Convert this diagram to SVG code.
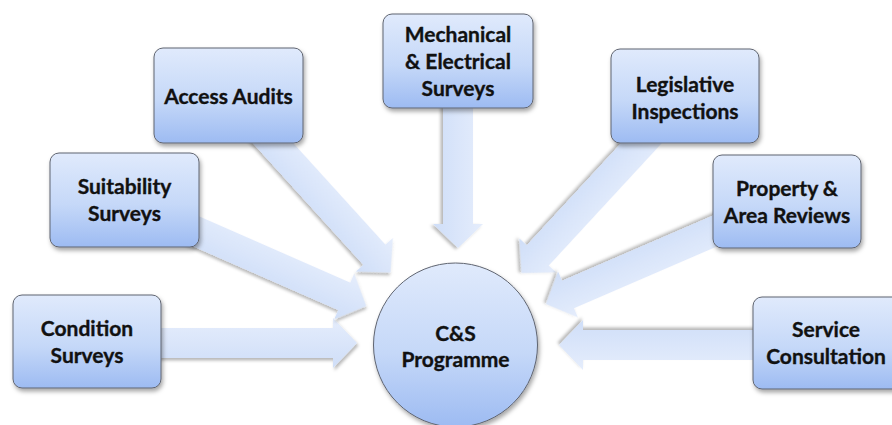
<svg xmlns="http://www.w3.org/2000/svg" width="892" height="425" viewBox="0 0 892 425">
  <defs>
    <linearGradient id="boxFill" x1="0" y1="0" x2="0" y2="1">
      <stop offset="0" stop-color="#e0eafc"/>
      <stop offset="0.55" stop-color="#c5d8f8"/>
      <stop offset="1" stop-color="#9dbbf2"/>
    </linearGradient>
    <linearGradient id="arrowFill" x1="0" y1="0" x2="0" y2="1">
      <stop offset="0" stop-color="#e5edfc"/>
      <stop offset="1" stop-color="#cfdef8"/>
    </linearGradient>
    <filter id="shadow" x="-20%" y="-20%" width="140%" height="150%">
      <feDropShadow dx="1.5" dy="3" stdDeviation="2" flood-color="#000" flood-opacity="0.35"/>
    </filter>
    <filter id="arrowShadow" x="-20%" y="-30%" width="140%" height="160%">
      <feDropShadow dx="1.5" dy="2.5" stdDeviation="1.8" flood-color="#000" flood-opacity="0.28"/>
    </filter>
  </defs>
  <style>
    .node rect, .node circle { fill: url(#boxFill); stroke: #5f6470; stroke-width: 1; filter: url(#shadow); }
    .node text { font-family: Lato, "Open Sans", "Liberation Sans", sans-serif; font-weight: bold; font-size: 21px; fill: #111; stroke: #111; stroke-width: 0.35; text-anchor: middle; }
    .arrow { fill: url(#arrowFill); filter: url(#arrowShadow); }
  </style>

  <!-- block arrows: each points along +x with its tip at the origin, then placed and turned -->
  <g id="connectors">
    <!-- Condition Surveys -> C&S Programme -->
    <path class="arrow" transform="translate(357,343)" d="M-270,-15 H-24 V-25 L0,0 L-24,25 V15 H-270 Z"/>
    <!-- Suitability Surveys -> C&S Programme -->
    <path class="arrow" transform="translate(366.2,306) rotate(23.69)" d="M-264,-15 H-24 V-25 L0,0 L-24,25 V15 H-264 Z"/>
    <!-- Access Audits -> C&S Programme -->
    <path class="arrow" transform="translate(390.5,272.5) rotate(47.77)" d="M-240,-15 H-24 V-25 L0,0 L-24,25 V15 H-240 Z"/>
    <!-- Mechanical & Electrical Surveys -> C&S Programme -->
    <path class="arrow" transform="translate(458,248) rotate(90)" d="M-187,-15 H-24 V-25 L0,0 L-24,25 V15 H-187 Z"/>
    <!-- Legislative Inspections -> C&S Programme -->
    <path class="arrow" transform="translate(521.5,273) rotate(132.73)" d="M-242,-15 H-24 V-25 L0,0 L-24,25 V15 H-242 Z"/>
    <!-- Property & Area Reviews -> C&S Programme -->
    <path class="arrow" transform="translate(546,304) rotate(156.63)" d="M-262,-15 H-24 V-25 L0,0 L-24,25 V15 H-262 Z"/>
    <!-- Service Consultation -> C&S Programme -->
    <path class="arrow" transform="translate(559,345) rotate(180)" d="M-269,-15 H-24 V-25 L0,0 L-24,25 V15 H-269 Z"/>
  </g>

  <g id="condition-surveys" class="node">
    <rect x="13" y="295" width="148" height="93" rx="9"/>
    <text x="87" y="336">Condition</text>
    <text x="87" y="363">Surveys</text>
  </g>

  <g id="suitability-surveys" class="node">
    <rect x="50" y="153" width="149" height="94" rx="9"/>
    <text x="124.5" y="194">Suitability</text>
    <text x="124.5" y="221">Surveys</text>
  </g>

  <g id="access-audits" class="node">
    <rect x="154" y="48" width="149" height="95" rx="9"/>
    <text x="228.5" y="104">Access Audits</text>
  </g>

  <g id="mech-elec-surveys" class="node">
    <rect x="383" y="14" width="150" height="94" rx="9"/>
    <text x="458" y="42">Mechanical</text>
    <text x="458" y="69">&amp; Electrical</text>
    <text x="458" y="96">Surveys</text>
  </g>

  <g id="legislative-inspections" class="node">
    <rect x="611" y="49" width="148" height="94" rx="9"/>
    <text x="685" y="92">Legislative</text>
    <text x="685" y="119">Inspections</text>
  </g>

  <g id="property-area-reviews" class="node">
    <rect x="713" y="155" width="148" height="93" rx="9"/>
    <text x="787" y="196">Property &amp;</text>
    <text x="787" y="223">Area Reviews</text>
  </g>

  <g id="service-consultation" class="node">
    <rect x="753" y="297" width="150" height="92" rx="9"/>
    <text x="826" y="337">Service</text>
    <text x="826" y="364">Consultation</text>
  </g>

  <g id="cs-programme" class="node">
    <circle cx="455.5" cy="345" r="82"/>
    <text x="455.5" y="341">C&amp;S</text>
    <text x="455.5" y="367">Programme</text>
  </g>
</svg>
